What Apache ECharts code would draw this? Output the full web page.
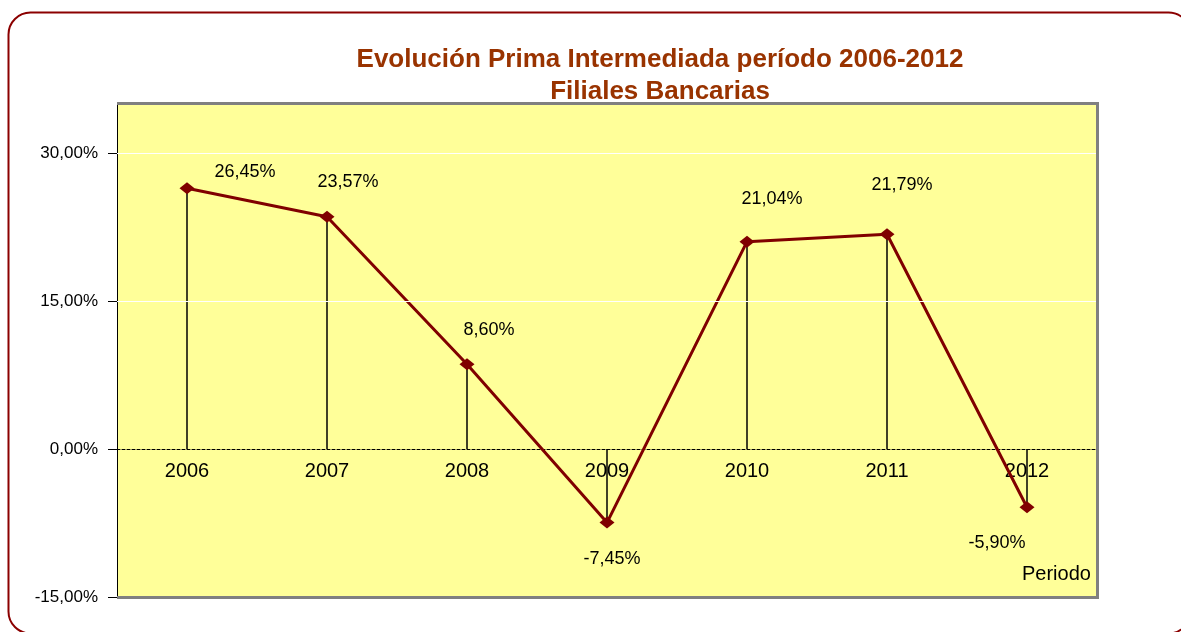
<!DOCTYPE html>
<html>
<head>
<meta charset="utf-8">
<title>Evolución Prima Intermediada</title>
<script src="https://cdn.jsdelivr.net/npm/echarts@6/dist/echarts.min.js"></script>
<style>
  html, body { margin: 0; padding: 0; background: #fff; }
  #chart { width: 1181px; height: 632px; }
</style>
</head>
<body>
<div id="chart"></div>
<script>
  // datos
  const years = ['2006', '2007', '2008', '2009', '2010', '2011', '2012']
  const growth = [26.45, 23.57, 8.60, -7.45, 21.04, 21.79, -5.90]
  const yTicks = [-15, 0, 15, 30]

  // desplazamiento de cada etiqueta respecto al punto
  const labelOffsets = [[58, -16], [21, -35], [22, -34], [5, 36], [25, -43], [15, -49], [-30, 36]]

  const pct = v => v.toFixed(2).replace('.', ',') + '%'
  const font = '"Liberation Sans", Arial, sans-serif'

  const chart = echarts.init(document.getElementById('chart'))

  const option = {
    backgroundColor: '#fff',
    animation: false,
    title: {
      text: 'Evolución Prima Intermediada período 2006-2012\nFiliales Bancarias',
      left: 655,
      top: 39,
      textAlign: 'center',
      textStyle: {
        fontFamily: font,
        fontSize: 26,
        fontWeight: 'bold',
        color: '#993300',
        lineHeight: 32
      }
    },
    grid: {
      left: 117,
      top: 104,
      right: 84,
      bottom: 35,
      show: true,
      backgroundColor: '#ffff99',
      borderWidth: 0
    },
    xAxis: {
      type: 'category',
      data: years,
      axisLine: { onZero: true, lineStyle: { color: '#000', width: 1, type: [3, 2] } },
      axisTick: { show: false },
      // las etiquetas quedan abajo del grid, se suben hasta el eje cero
      axisLabel: { margin: -136, fontFamily: font, fontSize: 20, color: '#000' },
      splitLine: { show: false }
    },
    yAxis: {
      type: 'value',
      min: -15,
      max: 35,
      interval: 15,
      axisLine: { show: true, lineStyle: { color: '#000', width: 1 } },
      axisTick: { show: true, length: 9, customValues: yTicks, lineStyle: { color: '#000' } },
      axisLabel: {
        customValues: yTicks,
        margin: 19,
        fontFamily: font,
        fontSize: 17,
        color: '#000',
        formatter: v => pct(v)
      },
      splitLine: { show: false }
    },
    series: [
      {
        // lineas de caida hasta el eje
        type: 'bar',
        data: growth,
        barWidth: 1.5,
        itemStyle: { color: '#000' },
        z: 2,
        silent: true,
        markLine: {
          silent: true,
          symbol: 'none',
          label: { show: false },
          lineStyle: { color: '#fff', width: 1, type: 'solid' },
          data: yTicks.filter(v => v > 0).map(v => ({ yAxis: v }))
        }
      },
      {
        type: 'line',
        data: growth.map((v, i) => ({ value: v, label: { offset: labelOffsets[i] } })),
        symbol: 'diamond',
        symbolSize: [15, 12],
        lineStyle: { color: '#800000', width: 3 },
        itemStyle: { color: '#800000' },
        z: 3,
        label: {
          show: true,
          position: 'inside',
          fontFamily: font,
          fontSize: 18,
          color: '#000',
          formatter: p => pct(p.value)
        }
      }
    ],
    graphic: [
      {
        type: 'rect',
        shape: { x: 8.5, y: 12.5, width: 1182, height: 621, r: 22 },
        style: { fill: 'none', stroke: '#8b0000', lineWidth: 2 },
        silent: true
      },
      {
        type: 'polyline',
        shape: { points: [[117, 103.5], [1097.5, 103.5], [1097.5, 597.5], [117, 597.5]] },
        style: { fill: 'none', stroke: '#808080', lineWidth: 3 },
        z: 100,
        silent: true
      },
      {
        type: 'text',
        left: 1022,
        top: 564,
        style: { text: 'Periodo', font: '20px ' + font, fill: '#000' },
        silent: true
      }
    ]
  }

  chart.setOption(option)
</script>
</body>
</html>
